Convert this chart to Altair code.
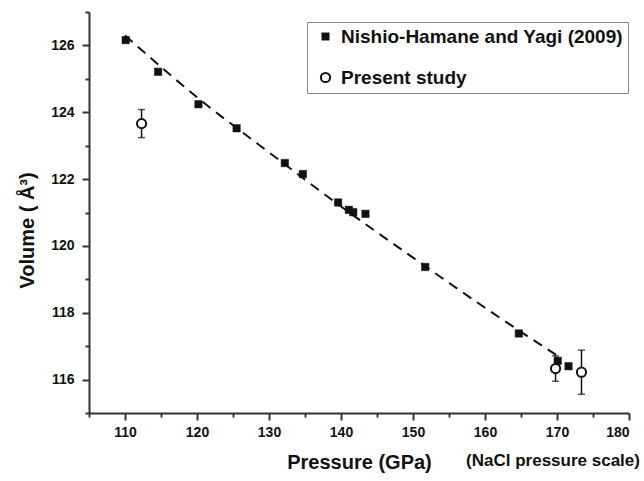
import altair as alt
import pandas as pd

# Nishio-Hamane and Yagi (2009) -- filled squares
nh_pressure = [110.1, 114.6, 120.2, 125.5, 132.2, 134.7, 139.6, 141.1, 141.7, 143.4, 151.7, 164.7, 170.1, 171.6]
nh_volume = [126.16, 125.21, 124.24, 123.52, 122.48, 122.15, 121.30, 121.08, 121.01, 120.96, 119.37, 117.38, 116.56, 116.40]

# Present study -- open circles with error bars
ps_pressure = [112.3, 169.8, 173.4]
ps_volume = [123.66, 116.33, 116.22]
ps_err = [0.42, 0.38, 0.66]

# Dashed fit curve
fit_pressure = [110, 120, 130, 140, 150, 160, 170]
fit_volume = [126.30, 124.45, 122.80, 121.18, 119.65, 118.15, 116.72]

# Axis ticks
x_major = [110, 120, 130, 140, 150, 160, 170, 180]
x_minor = [105, 115, 125, 135, 145, 155, 165, 175]
y_major = [116, 118, 120, 122, 124, 126]
y_minor = [115, 117, 119, 121, 123, 125, 127]

S1 = "Nishio-Hamane and Yagi (2009)"
S2 = "Present study"
FONT = "Liberation Sans"

pts = pd.DataFrame(
    {"P": nh_pressure + ps_pressure,
     "V": nh_volume + ps_volume,
     "series": [S1] * len(nh_pressure) + [S2] * len(ps_pressure),
     "order": [0] * len(nh_pressure) + [1] * len(ps_pressure)}
)
err = pd.DataFrame({"P": ps_pressure, "lo": [v - e for v, e in zip(ps_volume, ps_err)],
                    "hi": [v + e for v, e in zip(ps_volume, ps_err)]})
fit = pd.DataFrame({"P": fit_pressure, "V": fit_volume})
note = pd.DataFrame({"t": ["(NaCl pressure scale)"]})

xscale = alt.Scale(domain=[105, 180], nice=False, zero=False)
yscale = alt.Scale(domain=[115, 127], nice=False, zero=False)

xaxis = alt.Axis(
    title="Pressure (GPa)",
    orient="bottom",
    values=x_major,
    tickSize=7,
    grid=False,
    titlePadding=13,
)
yaxis = alt.Axis(
    title="Volume ( Å³)",
    orient="left",
    values=y_major,
    tickSize=7,
    grid=False,
    titleX=-62,
    titleY=218,
    titleAlign="center",
    titleBaseline="middle",
)
xaxis_minor = alt.Axis(orient="bottom", values=x_minor, tickSize=4, labels=False, domain=False, title="", grid=False)
yaxis_minor = alt.Axis(orient="left", values=y_minor, tickSize=4, labels=False, domain=False, title="", grid=False)

line = alt.Chart(fit).mark_line(color="#111", strokeWidth=2, strokeDash=[10, 7], interpolate="monotone").encode(
    x=alt.X("P:Q", scale=xscale, axis=xaxis), y=alt.Y("V:Q", scale=yscale, axis=yaxis)
)

minor = alt.Chart(fit).mark_point(opacity=0).encode(
    x=alt.X("P:Q", scale=xscale, axis=xaxis_minor),
    y=alt.Y("V:Q", scale=yscale, axis=yaxis_minor),
)

bars = alt.Chart(err).mark_rule(color="#111", strokeWidth=1.5).encode(
    x=alt.X("P:Q", scale=xscale, axis=None), y=alt.Y("lo:Q", scale=yscale, axis=None), y2="hi:Q"
)
cap_lo = alt.Chart(err).mark_tick(color="#111", thickness=1.5, size=7, orient="horizontal").encode(
    x=alt.X("P:Q", scale=xscale, axis=None), y=alt.Y("lo:Q", scale=yscale, axis=None)
)
cap_hi = alt.Chart(err).mark_tick(color="#111", thickness=1.5, size=7, orient="horizontal").encode(
    x=alt.X("P:Q", scale=xscale, axis=None), y=alt.Y("hi:Q", scale=yscale, axis=None)
)

legend = alt.Legend(
    title=None,
    orient="none",
    legendX=218,
    legendY=10,
    strokeColor="#888",
    padding=5,
    symbolOffset=4,
    labelOffset=6,
    labelLimit=400,
    rowPadding=21,
    labelFontSize=19,
    labelFont=FONT,
    labelFontWeight="bold",
    labelColor="#111",
    fillColor="white",
)

points = alt.Chart(pts).mark_point(opacity=1, filled=False).encode(
    x=alt.X("P:Q", scale=xscale, axis=None),
    y=alt.Y("V:Q", scale=yscale, axis=None),
    shape=alt.Shape("series:N", scale=alt.Scale(domain=[S1, S2], range=["square", "circle"]), legend=legend),
    fill=alt.Fill("series:N", scale=alt.Scale(domain=[S1, S2], range=["#111", "white"]), legend=legend),
    stroke=alt.Stroke("series:N", scale=alt.Scale(domain=[S1, S2], range=["#111", "#111"]), legend=legend),
    size=alt.Size("series:N", scale=alt.Scale(domain=[S1, S2], range=[55, 85]), legend=legend),
    strokeWidth=alt.StrokeWidth("series:N", scale=alt.Scale(domain=[S1, S2], range=[0.5, 2]), legend=legend),
    order=alt.Order("order:Q"),
)

note_text = alt.Chart(note).mark_text(
    font=FONT, fontSize=17, fontWeight="bold", color="#111", align="center", baseline="middle"
).encode(x=alt.value(464), y=alt.value(449), text="t:N")

chart = (
    alt.layer(line, minor, bars, cap_lo, cap_hi, points, note_text)
    .resolve_axis(x="independent", y="independent")
    .properties(
        width=540,
        height=401,
        autosize=alt.AutoSizeParams(type="none"),
        padding={"left": 89, "top": 12, "right": 15, "bottom": 68},
    )
    .configure_view(stroke=None)
    .configure_axis(
        domainColor="#333",
        domainWidth=2,
        tickColor="#333",
        tickWidth=2,
        labelFont=FONT,
        labelFontSize=14,
        labelFontWeight="bold",
        labelColor="#111",
        labelPadding=5,
        titleFont=FONT,
        titleFontSize=20,
        titleFontWeight="bold",
        titleColor="#111",
    )
    .configure_axisY(labelPadding=8)
)

chart.save("out.html", embed_options={"renderer": "svg", "actions": False})
